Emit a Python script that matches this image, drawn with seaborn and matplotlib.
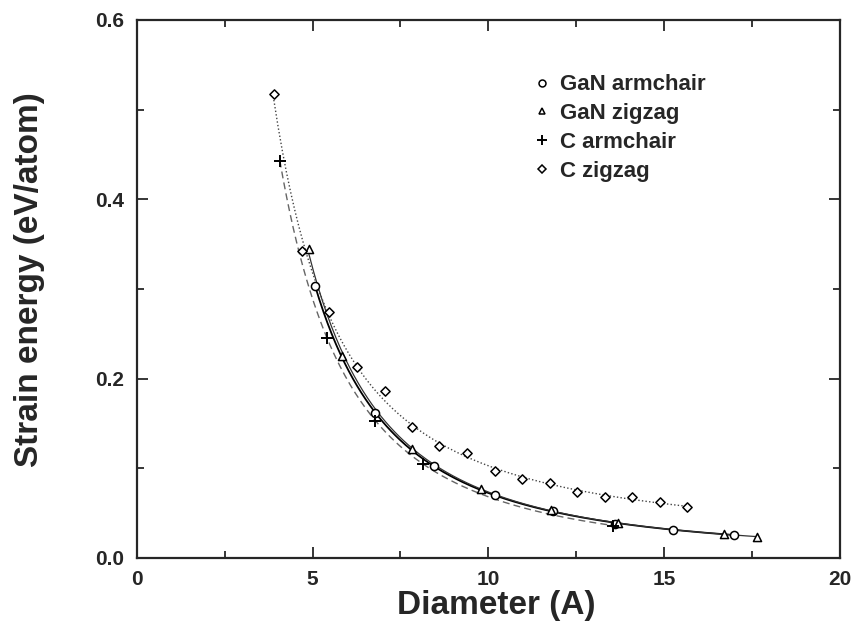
import numpy as np
import pandas as pd
import matplotlib
matplotlib.use("Agg")
import matplotlib.pyplot as plt
import seaborn as sns
from matplotlib.lines import Line2D
from matplotlib.ticker import MultipleLocator

# ---- data ----
gan_arm_d = [5.07, 6.78, 8.46, 10.20, 11.85, 13.60, 15.27, 17.00]
gan_arm_e = [0.303, 0.162, 0.103, 0.070, 0.052, 0.038, 0.031, 0.026]
gan_zig_d = [4.90, 5.85, 7.83, 9.80, 11.80, 13.70, 16.70, 17.66]
gan_zig_e = [0.344, 0.225, 0.121, 0.077, 0.053, 0.039, 0.027, 0.023]
c_arm_d = [4.07, 5.42, 6.78, 8.14, 13.56]
c_arm_e = [0.443, 0.245, 0.153, 0.105, 0.036]
c_zig_d = [3.90, 4.70, 5.48, 6.26, 7.05, 7.83, 8.61, 9.40, 10.18, 10.96,
           11.75, 12.53, 13.31, 14.09, 14.88, 15.66]
c_zig_e = [0.517, 0.342, 0.274, 0.213, 0.186, 0.146, 0.125, 0.117, 0.097,
           0.088, 0.084, 0.074, 0.068, 0.068, 0.062, 0.057]

labels = ["GaN armchair", "GaN zigzag", "C armchair", "C zigzag"]
x_ticks = [0, 5, 10, 15, 20]
y_ticks = [0.0, 0.2, 0.4, 0.6]

sns.set_style("ticks")
plt.rcParams["font.family"] = ["Liberation Sans", "DejaVu Sans"]
plt.rcParams["font.weight"] = "bold"

fig = plt.figure(figsize=(8.55, 6.24), dpi=100)
ax = fig.add_axes([0.160, 0.106, 0.822, 0.862])

series = [
    (labels[0], gan_arm_d, gan_arm_e, "o", dict(ls="-", lw=1.3, color="black")),
    (labels[1], gan_zig_d, gan_zig_e, "^", dict(ls="-", lw=0.9, color="#333333")),
    (labels[2], c_arm_d, c_arm_e, "+", dict(ls=(0, (5, 3)), lw=1.0, color="#666666")),
    (labels[3], c_zig_d, c_zig_e, "D", dict(ls=(0, (1, 1.6)), lw=1.0, color="#444444")),
]

# fitted curves (fitted in log-log space from the data)
for name, d, e, m, style in series:
    d = np.asarray(d); e = np.asarray(e)
    coef = np.polyfit(np.log(d), np.log(e), 2)
    xs = np.linspace(d.min(), d.max(), 200)
    fit = pd.DataFrame({"d": xs, "e": np.exp(np.polyval(coef, np.log(xs)))})
    sns.lineplot(data=fit, x="d", y="e", ax=ax, linestyle=style["ls"],
                 linewidth=style["lw"], color=style["color"], legend=False)

# markers
for name, d, e, m, style in series:
    df = pd.DataFrame({"d": d, "e": e})
    if m == "+":
        sns.scatterplot(data=df, x="d", y="e", ax=ax, marker="+", s=70,
                        color="black", linewidth=1.4, legend=False, zorder=5)
    else:
        sz = {"o": 34, "^": 34, "D": 22}[m]
        sns.scatterplot(data=df, x="d", y="e", ax=ax, marker=m, s=sz,
                        facecolor="white", edgecolor="black", linewidth=1.1,
                        legend=False, zorder=5)

ax.set_xlim(0, 20)
ax.set_ylim(0, 0.6)
ax.set_xticks(x_ticks)
ax.set_xticklabels([str(v) for v in x_ticks])
ax.set_yticks(y_ticks)
ax.set_yticklabels([f"{v:.1f}" for v in y_ticks])
ax.xaxis.set_minor_locator(MultipleLocator(2.5))
ax.yaxis.set_minor_locator(MultipleLocator(0.1))
ax.tick_params(which="both", direction="in", top=True, right=True, width=1.3)
ax.tick_params(which="major", length=8, labelsize=15, pad=9)
ax.tick_params(which="minor", length=5)
for lab in ax.get_xticklabels() + ax.get_yticklabels():
    lab.set_fontweight("bold")
for sp in ax.spines.values():
    sp.set_visible(True)
    sp.set_linewidth(1.6)

ax.set_xlabel("Diameter (A)", fontsize=24, fontweight="bold")
ax.set_ylabel("Strain energy (eV/atom)", fontsize=24, fontweight="bold")
ax.xaxis.set_label_coords(0.512, -0.060)
ax.yaxis.set_label_coords(-0.131, 0.517)

handles = [
    Line2D([], [], ls="none", marker="o", ms=5, mfc="white", mec="black", mew=1.1),
    Line2D([], [], ls="none", marker="^", ms=5, mfc="white", mec="black", mew=1.1),
    Line2D([], [], ls="none", marker="+", ms=7, color="black", mew=1.4),
    Line2D([], [], ls="none", marker="D", ms=4.5, mfc="white", mec="black", mew=1.1),
]
leg = ax.legend(handles, labels, loc="upper left", bbox_to_anchor=(0.536, 0.936),
                frameon=False, handlelength=0.8, handletextpad=0.4,
                labelspacing=0.35, prop={"size": 16, "weight": "bold"})

fig.savefig("out.png", dpi=100)
